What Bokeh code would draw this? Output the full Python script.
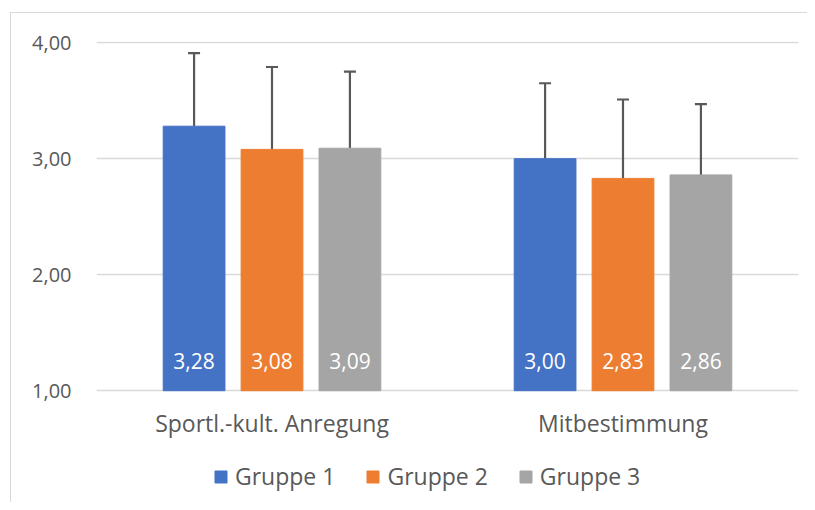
from bokeh.plotting import figure
from bokeh.models import (ColumnDataSource, FactorRange, Range1d, FixedTicker, Whisker, TeeHead,
                          CustomJSTickFormatter, Legend, LegendItem, InlineStyleSheet)
from bokeh.transform import dodge
from bokeh.core.properties import value
from bokeh.embed import file_html
from bokeh.resources import INLINE

categories = ["Sportl.-kult. Anregung", "Mitbestimmung"]
groups = ["Gruppe 1", "Gruppe 2", "Gruppe 3"]
means = {
    "Gruppe 1": [3.28, 3.00],
    "Gruppe 2": [3.08, 2.83],
    "Gruppe 3": [3.09, 2.86],
}
sds = {
    "Gruppe 1": [0.63, 0.65],
    "Gruppe 2": [0.71, 0.68],
    "Gruppe 3": [0.66, 0.61],
}
colors = ["#4472C4", "#ED7D31", "#A5A5A5"]
offsets = [-0.222, 0.0, 0.222]
y_ticks = [1, 2, 3, 4]

FONT = "Open Sans"
TXT = "#595959"

p = figure(width=807, height=502, x_range=FactorRange(factors=categories, range_padding=0),
           y_range=Range1d(0.045, 4.01), output_backend="svg", toolbar_location=None,
           min_border_left=96, min_border_right=9, min_border_top=41, min_border_bottom=1)
p.outline_line_color = None
p.background_fill_color = "white"
p.border_fill_color = "white"
p.stylesheets = [InlineStyleSheet(css=(
    ":host{position:relative;}"
    ":host::after{content:'';position:absolute;left:10px;top:12px;right:0;bottom:0;"
    "border-left:1.5px solid #D9D9D9;border-top:1.5px solid #D9D9D9;pointer-events:none;}"))]

p.xaxis.visible = False
p.xgrid.grid_line_color = None
p.ygrid.grid_line_color = "#D9D9D9"
p.ygrid.grid_line_width = 1.5
p.ygrid.ticker = FixedTicker(ticks=y_ticks)

p.yaxis.ticker = FixedTicker(ticks=y_ticks)
p.yaxis.formatter = CustomJSTickFormatter(code="return tick.toFixed(2).replace('.', ',');")
ax = p.yaxis[0]
ax.axis_line_color = None
ax.major_tick_line_color = None
ax.minor_tick_line_color = None
ax.major_label_text_font = FONT
ax.major_label_text_font_size = "20px"
ax.major_label_text_color = TXT
ax.major_label_standoff = 19

# category labels below the baseline
cat_src = ColumnDataSource(dict(cat=categories, base=[1.0] * len(categories)))
p.text(x="cat", y="base", text="cat", source=cat_src, text_color=TXT,
       text_font=value(FONT), text_font_size="23px", text_align="center",
       text_baseline="middle", y_offset=32)

items = []
for g, c, off in zip(groups, colors, offsets):
    src = ColumnDataSource(dict(
        cat=categories,
        val=means[g],
        upper=[m + s for m, s in zip(means[g], sds[g])],
        lab=[f"{m:.2f}".replace(".", ",") for m in means[g]],
        base=[1.0] * len(categories),
    ))
    xd = dodge("cat", off, range=p.x_range)
    r = p.vbar(x=xd, top="val", bottom=1, width=0.176, color=c, source=src)
    items.append(LegendItem(label=g, renderers=[r]))
    w = Whisker(source=src, base=xd, upper="upper", lower="val", dimension="height",
                line_color="#595959", line_width=2.2,
                upper_head=TeeHead(size=12, line_color="#595959", line_width=2.2),
                lower_head=None)
    p.add_layout(w)
    p.text(x=xd, y="base", text="lab", source=src, text_color="white",
           text_font=value(FONT), text_font_size="21px", text_align="center",
           text_baseline="middle", y_offset=-30)

legend = Legend(items=items, orientation="horizontal", location=(117, 9),
                label_text_font=FONT, label_text_font_size="23px", label_text_color=TXT,
                glyph_width=15, glyph_height=15, spacing=30, label_standoff=7,
                border_line_color=None, background_fill_alpha=0, margin=0, padding=0)
p.add_layout(legend)

open("out.html", "w").write(file_html(p, INLINE))
